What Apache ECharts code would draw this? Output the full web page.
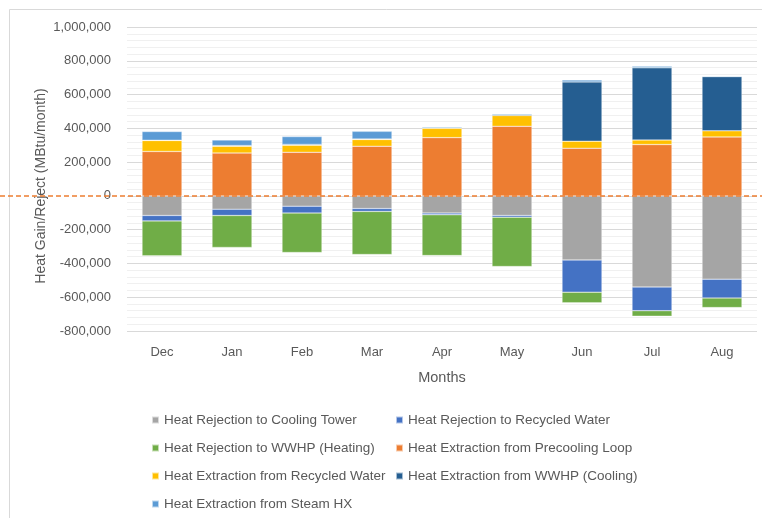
<!DOCTYPE html>
<html>
<head>
<meta charset="utf-8">
<script src="https://cdn.jsdelivr.net/npm/echarts@6/dist/echarts.min.js"></script>
<style>
  html, body { margin: 0; padding: 0; background: #fff; }
  #main { width: 762px; height: 518px; }
</style>
</head>
<body>
<div id="main"></div>
<script>
// months on the x axis
const months = ['Dec', 'Jan', 'Feb', 'Mar', 'Apr', 'May', 'Jun', 'Jul', 'Aug'];

// heat rejection (negative)
const coolingTower = [-116000, -79000, -61000, -75000, -102000, -116000, -380000, -540000, -493000];
const recycledReject = [-32000, -37000, -41000, -17000, -10000, -10000, -190000, -140000, -112000];
const wwhpHeating = [-207000, -189000, -233000, -255000, -241000, -292000, -63000, -32000, -56000];

// heat extraction (positive)
const precooling = [263000, 254000, 258000, 294000, 345000, 412000, 282000, 304000, 349000];
const recycledExtract = [65000, 40000, 42000, 40000, 55000, 64000, 42000, 27000, 36000];
const wwhpCooling = [2000, 4000, 5000, 3000, 3000, 5000, 351000, 427000, 321000];
const steamHx = [51000, 33000, 46000, 45000, 7000, 6000, 11000, 9000, 4000];

const FONT = '"Liberation Sans", Arial, sans-serif';
const TXT = '#595959';

const names = [
  'Heat Rejection to Cooling Tower',
  'Heat Rejection to Recycled Water',
  'Heat Rejection to WWHP (Heating)',
  'Heat Extraction from Precooling Loop',
  'Heat Extraction from Recycled Water',
  'Heat Extraction from WWHP (Cooling)',
  'Heat Extraction from Steam HX'
];
const colors = ['#A5A5A5', '#4472C4', '#70AD47', '#ED7D31', '#FFC000', '#255E91', '#5B9BD5'];
const values = [coolingTower, recycledReject, wwhpHeating, precooling, recycledExtract, wwhpCooling, steamHx];

const chart = echarts.init(document.getElementById('main'));

function fmt(v) {
  return v.toLocaleString('en-US');
}

const legendCommon = {
  orient: 'vertical',
  top: 408,
  itemWidth: 7,
  itemHeight: 7,
  itemGap: 14,
  icon: 'rect',
  textStyle: { fontFamily: FONT, fontSize: 13.5, color: TXT, lineHeight: 14 }
};

let option = {
  backgroundColor: '#fff',
  animation: false,
  color: colors,
  grid: { left: 127, right: 5, top: 27, bottom: 187 },
  legend: [
    Object.assign({ left: 146, data: [names[0], names[2], names[4], names[6]] }, legendCommon),
    Object.assign({ left: 390, data: [names[1], names[3], names[5]] }, legendCommon)
  ],
  xAxis: {
    type: 'category',
    data: months,
    name: 'Months',
    nameLocation: 'middle',
    nameGap: 39,
    nameTextStyle: { fontFamily: FONT, fontSize: 14.5, color: TXT },
    axisLine: { show: false, onZero: false },
    axisTick: { show: false },
    axisLabel: { fontFamily: FONT, fontSize: 13, color: TXT, margin: 15 }
  },
  yAxis: {
    type: 'value',
    min: -800000,
    max: 1000000,
    interval: 200000,
    name: 'Heat Gain/Reject (MBtu/month)',
    nameLocation: 'middle',
    nameGap: 79,
    nameMoveOverlap: false,
    nameTextStyle: { fontFamily: FONT, fontSize: 14, color: TXT, padding: [0, 14, 0, 0] },
    axisLine: { show: false },
    axisTick: { show: false },
    axisLabel: { fontFamily: FONT, fontSize: 13, color: TXT, margin: 16, formatter: fmt },
    splitLine: { lineStyle: { color: '#d9d9d9', width: 1 } },
    minorTick: { show: false, splitNumber: 5 },
    minorSplitLine: { show: true, lineStyle: { color: '#f0f0f0', width: 1 } }
  },
  series: names.map((n, i) => ({
    name: n,
    type: 'bar',
    stack: 'total',
    barWidth: '57%',
    data: values[i],
    itemStyle: { color: colors[i], borderColor: 'rgba(255,255,255,0.6)', borderWidth: 0.5 }
  }))
};

chart.setOption(option);

// dashed zero line across the whole chart width
const y0 = chart.convertToPixel({ yAxisIndex: 0 }, 0);
chart.setOption({
  graphic: [
    {
      type: 'rect',
      shape: { x: 9.5, y: 9.5, width: 800, height: 600 },
      style: { fill: 'none', stroke: '#d9d9d9', lineWidth: 1 },
      silent: true,
      z: -1
    },
    {
      type: 'line',
      shape: { x1: 0, y1: y0, x2: 762, y2: y0 },
      style: { stroke: '#ED7D31', lineWidth: 1.5, lineDash: [5, 3] },
      silent: true,
      z: 100
    }
  ]
});
</script>
</body>
</html>
